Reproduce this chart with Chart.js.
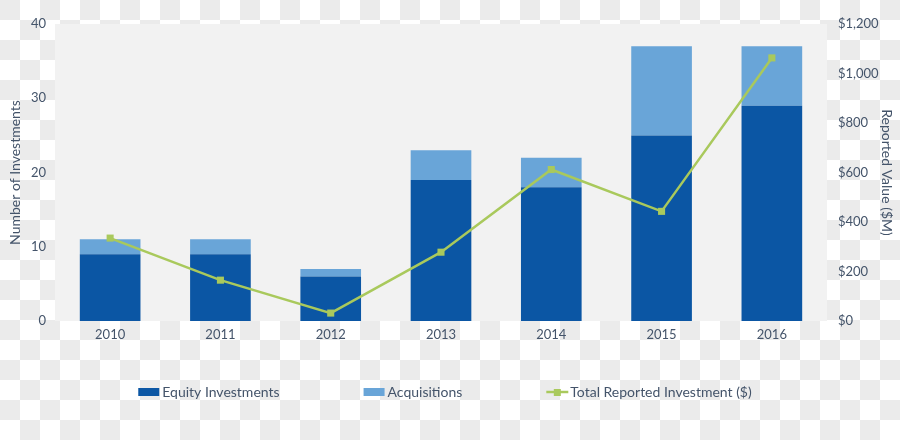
<!DOCTYPE html>
<html>
<head>
<meta charset="utf-8">
<script src="https://cdn.jsdelivr.net/npm/chart.js@4"></script>
<style>
  html, body { margin: 0; padding: 0; }
  body {
    width: 900px; height: 440px;
    background-color: #fff;
    background-image:
      linear-gradient(45deg, #ebebeb 25%, transparent 25%, transparent 75%, #ebebeb 75%),
      linear-gradient(45deg, #ebebeb 25%, transparent 25%, transparent 75%, #ebebeb 75%);
    background-size: 40px 40px;
    background-position: 20px 0, 0 20px;
  }
  #wrap { position: relative; width: 900px; height: 440px; }
</style>
</head>
<body>
<div id="wrap"><canvas id="myChart"></canvas></div>
<script>
const years = ["2010", "2011", "2012", "2013", "2014", "2015", "2016"];
const equity = [9, 9, 6, 19, 18, 25, 29];
const acquisitions = [2, 2, 1, 4, 4, 12, 8];
const totalValue = [335, 165, 32, 278, 612, 443, 1063];

const FONT = "Lato, 'Open Sans', sans-serif";
const TXT = "#44546a";
const GREEN = "#a9c95c";

// gray plot area behind the bars
const plotBg = {
  id: "plotBg",
  beforeDraw(chart) {
    const { ctx, chartArea: a } = chart;
    ctx.save();
    ctx.fillStyle = "#f2f2f2";
    ctx.fillRect(a.left, a.top, a.right - a.left, a.bottom - a.top);
    ctx.restore();
  },
};

// legend drawn by hand so the items can be spread out like the original
const wideLegend = {
  id: "wideLegend",
  afterDraw(chart) {
    const ctx = chart.ctx;
    const gap = 84, boxW = 21, cy = 392;
    ctx.save();
    ctx.font = "14px " + FONT;
    ctx.textBaseline = "middle";
    const items = chart.data.datasets.map((d) => ({
      text: d.label,
      type: d.type || "bar",
      color: d.type === "line" ? d.borderColor : d.backgroundColor,
      w: boxW + 3 + ctx.measureText(d.label).width,
    }));
    const total = items.reduce((s, it) => s + it.w, 0) + gap * (items.length - 1);
    let x = 445 - total / 2;
    items.forEach((it) => {
      if (it.type === "line") {
        ctx.strokeStyle = it.color;
        ctx.lineWidth = 2.5;
        ctx.beginPath();
        ctx.moveTo(x, cy);
        ctx.lineTo(x + boxW + 1, cy);
        ctx.stroke();
        ctx.fillStyle = it.color;
        ctx.fillRect(x + boxW / 2 - 3, cy - 3, 7, 7);
      } else {
        ctx.fillStyle = it.color;
        ctx.fillRect(x, cy - 4, boxW, 8);
      }
      ctx.fillStyle = TXT;
      ctx.fillText(it.text, x + boxW + 3, cy);
      x += it.w + gap;
    });
    ctx.restore();
  },
};

Chart.defaults.font.family = FONT;
Chart.defaults.color = TXT;

let myCt = document.getElementById("myChart");
let myChart = new Chart(myCt, {
  type: "bar",
  data: {
    labels: years,
    datasets: [
      {
        label: "Equity Investments",
        data: equity,
        backgroundColor: "#0b56a4",
        yAxisID: "y",
        stack: "n",
        order: 2,
      },
      {
        label: "Acquisitions",
        data: acquisitions,
        backgroundColor: "#69a5d8",
        yAxisID: "y",
        stack: "n",
        order: 2,
      },
      {
        type: "line",
        label: "Total Reported Investment ($)",
        data: totalValue,
        borderColor: GREEN,
        backgroundColor: GREEN,
        borderWidth: 2.5,
        pointStyle: "rect",
        pointRadius: 5,
        pointBackgroundColor: GREEN,
        pointBorderWidth: 0,
        tension: 0,
        yAxisID: "y1",
        order: 0,
      },
    ],
  },
  plugins: [plotBg, wideLegend],
  options: {
    responsive: true,
    maintainAspectRatio: false,
    animation: false,
    layout: { padding: { top: 24, bottom: 80, left: 0, right: 0 } },
    datasets: {
      bar: { categoryPercentage: 1, barPercentage: 0.55 },
    },
    plugins: {
      legend: { display: false },
      tooltip: { enabled: false },
    },
    scales: {
      x: {
        stacked: true,
        grid: { display: false, drawTicks: false },
        border: { display: false },
        ticks: { padding: 6, font: { size: 13 }, color: TXT },
        afterFit: (s) => { s.height = 39; },
      },
      y: {
        stacked: true,
        position: "left",
        min: 0,
        max: 40,
        grid: { display: false, drawTicks: false },
        border: { display: false },
        ticks: { stepSize: 10, padding: 9, font: { size: 13 }, color: TXT },
        title: {
          display: true,
          text: "Number of Investments",
          font: { size: 14 },
          color: TXT,
          padding: { top: 7, bottom: 0 },
        },
        afterFit: (s) => { s.width = 55; },
      },
      y1: {
        position: "right",
        min: 0,
        max: 1200,
        grid: { display: false, drawTicks: false },
        border: { display: false },
        ticks: {
          stepSize: 200,
          padding: 11,
          font: { size: 13 },
          color: TXT,
          callback: (v) => "$" + v.toLocaleString("en-US"),
        },
        title: {
          display: true,
          text: "Reported Value ($M)",
          font: { size: 14 },
          color: TXT,
          padding: { top: 5, bottom: 0 },
        },
        afterFit: (s) => { s.width = 73; },
      },
    },
  },
});
</script>
</body>
</html>
